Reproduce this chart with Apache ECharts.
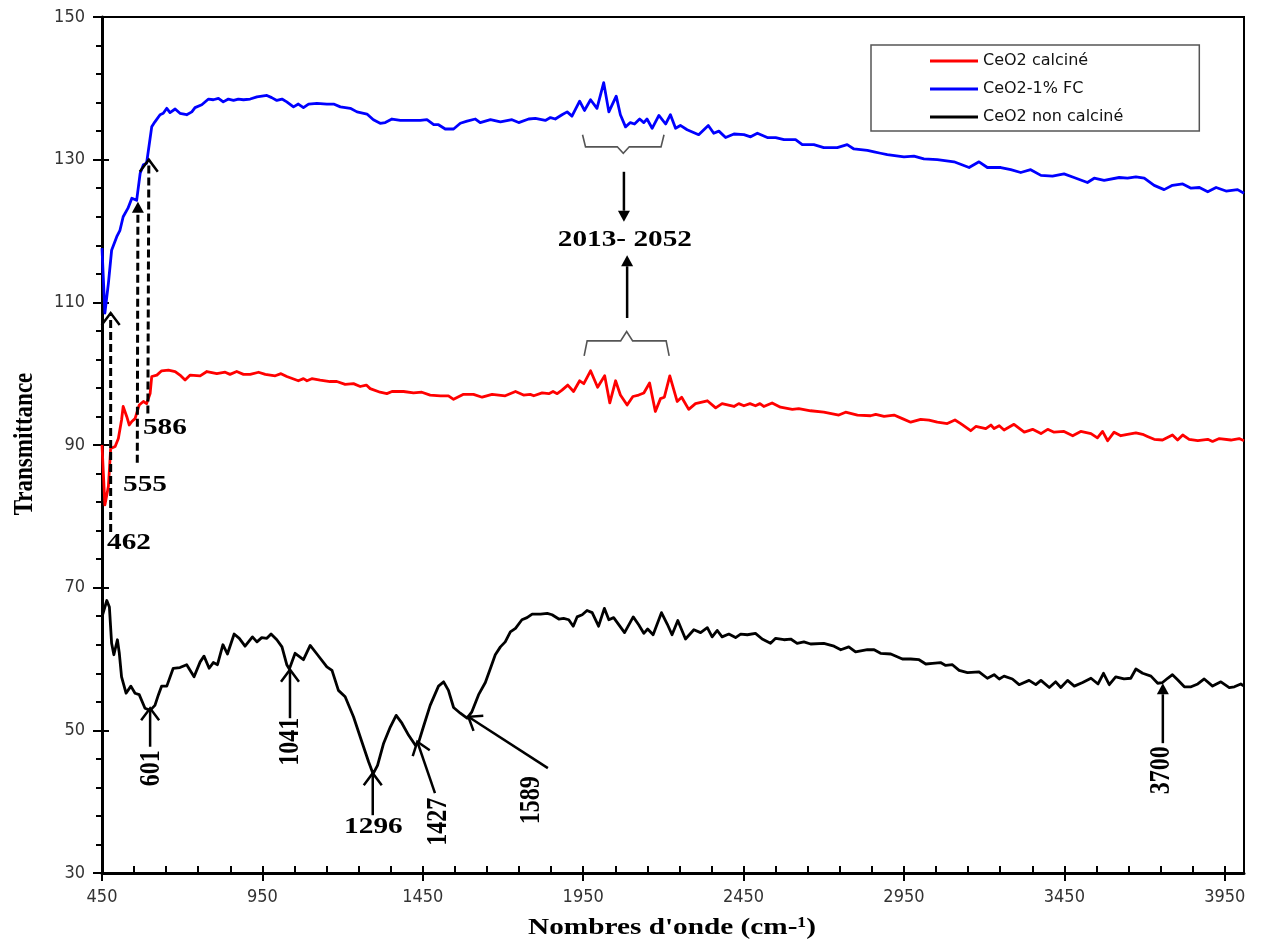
<!DOCTYPE html>
<html>
<head>
<meta charset="utf-8">
<title>Spectres IR CeO2</title>
<script src="https://cdn.jsdelivr.net/npm/echarts@6/dist/echarts.min.js"></script>
<style>
    html, body {
        margin: 0;
        padding: 0;
        background: #fff;
    }

    #main {
        width: 1265px;
        height: 942px;
    }
</style>
</head>
<body>
<div id="main"></div>
<script>
    // axes
    var xTickValues = [450, 950, 1450, 1950, 2450, 2950, 3450, 3950];
    var yTickValues = [30, 50, 70, 90, 110, 130, 150];
    var legendNames = ['CeO2 calciné', 'CeO2-1% FC', 'CeO2 non calciné'];

    // CeO2 calciné (rouge) : [nombre d'onde, transmittance]
    var redSpectrum = [
        [450, 90.0], [459, 81.6], [470, 84.2], [477, 89.5], [491, 89.8], [501, 90.9], [511, 93.5], [516, 95.4],
        [522, 95.5], [527, 94.0], [535, 92.8], [543, 93.3], [553, 93.7], [566, 95.6], [579, 96.1], [589, 95.8],
        [600, 97.2], [605, 99.6], [621, 99.8], [636, 100.4], [657, 100.5], [678, 100.3], [693, 99.8], [709, 99.1],
        [725, 99.8], [756, 99.7], [777, 100.3], [808, 100.0], [834, 100.2], [849, 99.9], [870, 100.3], [891, 99.9],
        [912, 99.9], [938, 100.2], [959, 99.9], [990, 99.7], [1008, 100.0], [1026, 99.6], [1062, 99.0], [1078, 99.3],
        [1089, 99.0], [1104, 99.3], [1130, 99.1], [1161, 98.9], [1182, 98.9], [1208, 98.5], [1234, 98.6], [1255, 98.2],
        [1274, 98.4], [1286, 97.9], [1317, 97.4], [1338, 97.2], [1354, 97.5], [1390, 97.5], [1421, 97.3], [1447, 97.4],
        [1473, 97.0], [1505, 96.9], [1530, 96.9], [1546, 96.4], [1577, 97.1], [1608, 97.1], [1635, 96.7], [1666, 97.1],
        [1707, 96.9], [1739, 97.5], [1764, 97.0], [1785, 97.1], [1796, 96.9], [1822, 97.3], [1843, 97.2], [1856, 97.5],
        [1869, 97.2], [1884, 97.7], [1902, 98.4], [1920, 97.5], [1939, 99.0], [1952, 98.6], [1973, 100.4], [1995, 98.1],
        [2017, 99.7], [2033, 95.9], [2051, 99.0], [2066, 97.0], [2087, 95.6], [2105, 96.8], [2123, 97.0], [2139, 97.3],
        [2157, 98.7], [2175, 94.7], [2191, 96.5], [2203, 96.7], [2220, 99.7], [2243, 96.1], [2257, 96.7], [2279, 95.0],
        [2300, 95.8], [2337, 96.2], [2363, 95.2], [2383, 95.8], [2420, 95.4], [2435, 95.8], [2451, 95.5], [2470, 95.8],
        [2487, 95.5], [2501, 95.8], [2513, 95.4], [2539, 95.9], [2565, 95.3], [2602, 95.0], [2622, 95.1], [2659, 94.8],
        [2700, 94.6], [2747, 94.2], [2768, 94.6], [2805, 94.2], [2846, 94.1], [2862, 94.3], [2888, 94.0], [2919, 94.2],
        [2945, 93.7], [2971, 93.2], [3002, 93.6], [3028, 93.5], [3054, 93.2], [3085, 93.0], [3109, 93.5], [3127, 93.0],
        [3158, 92.0], [3174, 92.6], [3205, 92.3], [3221, 92.8], [3231, 92.3], [3247, 92.7], [3262, 92.1], [3293, 92.9],
        [3325, 91.8], [3351, 92.2], [3377, 91.6], [3398, 92.2], [3418, 91.8], [3449, 91.9], [3476, 91.3], [3501, 91.9],
        [3533, 91.6], [3553, 91.0], [3569, 91.9], [3585, 90.6], [3605, 91.8], [3626, 91.3], [3647, 91.5], [3673, 91.7],
        [3694, 91.5], [3709, 91.2], [3730, 90.8], [3756, 90.7], [3787, 91.4], [3803, 90.7], [3819, 91.4], [3839, 90.8],
        [3866, 90.6], [3897, 90.8], [3912, 90.5], [3933, 90.9], [3969, 90.7], [3995, 90.9], [4010, 90.6]
    ];

    // CeO2-1% FC (bleu)
    var blueSpectrum = [
        [450, 117.6], [459, 108.5], [470, 112.7], [480, 117.3], [496, 119.2], [506, 120.1], [516, 122.0], [531, 123.2],
        [543, 124.6], [558, 124.3], [569, 128.1], [579, 129.3], [589, 129.5], [605, 134.6], [615, 135.3], [631, 136.3],
        [641, 136.5], [652, 137.2], [662, 136.6], [678, 137.1], [693, 136.5], [714, 136.3], [730, 136.7], [740, 137.3],
        [761, 137.7], [782, 138.5], [797, 138.4], [813, 138.6], [828, 138.1], [844, 138.5], [860, 138.3], [875, 138.5],
        [891, 138.4], [912, 138.5], [933, 138.8], [964, 139.0], [979, 138.7], [995, 138.3], [1011, 138.5], [1026, 138.1],
        [1047, 137.4], [1062, 137.8], [1078, 137.3], [1094, 137.8], [1120, 137.9], [1151, 137.8], [1172, 137.8], [1193, 137.4],
        [1224, 137.2], [1245, 136.7], [1276, 136.4], [1296, 135.6], [1317, 135.1], [1333, 135.2], [1354, 135.7], [1380, 135.5],
        [1411, 135.5], [1442, 135.5], [1463, 135.6], [1484, 134.9], [1499, 134.9], [1520, 134.3], [1546, 134.3], [1567, 135.1],
        [1588, 135.4], [1614, 135.7], [1629, 135.2], [1661, 135.6], [1692, 135.3], [1728, 135.6], [1749, 135.2], [1780, 135.7],
        [1801, 135.8], [1832, 135.5], [1848, 135.9], [1863, 135.7], [1884, 136.3], [1900, 136.7], [1915, 136.1], [1939, 138.2],
        [1954, 136.9], [1973, 138.4], [1993, 137.2], [2014, 140.8], [2030, 136.7], [2053, 138.9], [2066, 136.3], [2082, 134.6],
        [2097, 135.2], [2110, 135.0], [2126, 135.7], [2139, 135.2], [2149, 135.7], [2165, 134.4], [2186, 136.2], [2207, 135.0],
        [2222, 136.3], [2238, 134.4], [2253, 134.8], [2274, 134.2], [2310, 133.5], [2340, 134.8], [2357, 133.7], [2373, 134.0],
        [2394, 133.1], [2420, 133.6], [2451, 133.5], [2472, 133.2], [2493, 133.7], [2524, 133.1], [2550, 133.1], [2576, 132.8],
        [2612, 132.8], [2633, 132.1], [2669, 132.1], [2700, 131.7], [2742, 131.7], [2773, 132.1], [2794, 131.5], [2815, 131.4],
        [2836, 131.3], [2857, 131.1], [2877, 130.9], [2898, 130.7], [2950, 130.4], [2981, 130.5], [3012, 130.1], [3054, 130.0],
        [3106, 129.7], [3153, 128.9], [3184, 129.7], [3210, 128.9], [3252, 128.9], [3283, 128.6], [3314, 128.2], [3345, 128.6],
        [3377, 127.8], [3413, 127.7], [3449, 128.0], [3480, 127.5], [3522, 126.8], [3543, 127.4], [3574, 127.1], [3621, 127.5],
        [3647, 127.4], [3673, 127.6], [3699, 127.4], [3730, 126.4], [3761, 125.8], [3787, 126.4], [3819, 126.6], [3845, 126.0],
        [3871, 126.1], [3897, 125.5], [3923, 126.1], [3954, 125.6], [3990, 125.8], [4010, 125.3]
    ];

    // CeO2 non calciné (noir)
    var blackSpectrum = [
        [450, 65.9], [465, 68.2], [473, 67.3], [480, 62.2], [487, 60.6], [498, 62.7], [504, 60.8], [511, 57.5],
        [525, 55.2], [540, 56.2], [553, 55.2], [566, 55.0], [584, 53.1], [600, 52.8], [615, 53.5], [626, 55.0],
        [636, 56.2], [652, 56.2], [672, 58.7], [693, 58.8], [714, 59.2], [737, 57.5], [756, 59.6], [768, 60.4],
        [784, 58.7], [797, 59.5], [810, 59.2], [827, 62.0], [841, 60.7], [862, 63.5], [878, 62.9], [896, 61.8],
        [919, 63.1], [933, 62.4], [948, 63.0], [964, 62.9], [977, 63.5], [995, 62.7], [1011, 61.7], [1026, 59.2],
        [1034, 58.6], [1052, 60.8], [1078, 59.9], [1099, 61.9], [1120, 60.7], [1151, 58.9], [1167, 58.4], [1187, 55.6],
        [1208, 54.7], [1234, 51.9], [1260, 48.4], [1281, 45.6], [1295, 43.9], [1309, 45.1], [1328, 48.2], [1349, 50.5],
        [1367, 52.1], [1385, 51.0], [1406, 49.3], [1427, 47.9], [1437, 48.3], [1452, 50.5], [1473, 53.5], [1499, 56.2],
        [1515, 56.8], [1530, 55.6], [1546, 53.2], [1567, 52.4], [1588, 51.7], [1603, 52.6], [1624, 55.0], [1645, 56.7],
        [1661, 58.7], [1676, 60.6], [1692, 61.7], [1707, 62.4], [1723, 63.8], [1739, 64.3], [1759, 65.5], [1775, 65.8],
        [1791, 66.3], [1817, 66.3], [1838, 66.4], [1853, 66.2], [1874, 65.6], [1889, 65.7], [1905, 65.5], [1919, 64.6],
        [1931, 65.9], [1947, 66.2], [1962, 66.8], [1978, 66.5], [1998, 64.6], [2016, 67.1], [2030, 65.5], [2045, 65.8],
        [2079, 63.7], [2106, 65.9], [2123, 64.8], [2139, 63.6], [2151, 64.2], [2168, 63.4], [2194, 66.5], [2212, 64.9],
        [2227, 63.4], [2245, 65.4], [2269, 62.8], [2295, 64.1], [2316, 63.7], [2337, 64.4], [2352, 63.1], [2368, 64.0],
        [2383, 63.1], [2404, 63.5], [2425, 63.0], [2441, 63.5], [2462, 63.4], [2487, 63.6], [2508, 62.8], [2534, 62.2],
        [2550, 62.9], [2576, 62.7], [2597, 62.8], [2617, 62.2], [2638, 62.4], [2659, 62.1], [2700, 62.2], [2732, 61.8],
        [2753, 61.3], [2778, 61.7], [2799, 61.0], [2836, 61.3], [2857, 61.3], [2877, 60.8], [2909, 60.7], [2945, 60.0],
        [2971, 60.0], [2997, 59.9], [3018, 59.3], [3039, 59.4], [3064, 59.5], [3080, 59.1], [3101, 59.2], [3122, 58.4],
        [3148, 58.1], [3184, 58.2], [3210, 57.3], [3231, 57.8], [3247, 57.2], [3262, 57.6], [3288, 57.2], [3309, 56.4],
        [3340, 57.0], [3361, 56.4], [3377, 57.0], [3403, 56.0], [3423, 56.8], [3439, 56.0], [3460, 57.0], [3481, 56.2],
        [3507, 56.7], [3533, 57.3], [3555, 56.5], [3572, 58.0], [3590, 56.4], [3610, 57.5], [3636, 57.2], [3657, 57.3],
        [3673, 58.6], [3694, 58.0], [3720, 57.6], [3741, 56.6], [3756, 56.7], [3772, 57.3], [3787, 57.8], [3803, 57.1],
        [3824, 56.1], [3845, 56.1], [3866, 56.5], [3886, 57.2], [3912, 56.2], [3938, 56.8], [3964, 56.0], [3980, 56.1],
        [4000, 56.5], [4010, 56.2]
    ];

    // annotations des bandes (positions en unités du graphique)
    var dashedPeaks = [
        { label: '462', tail: [477, 77.8], tip: [477, 108.5], at: [534, 76.3], head: 'open' },
        { label: '555', tail: [560, 87.5], tip: [562, 124.1], at: [584, 84.4], head: 'solid' },
        { label: '586', tail: [593, 94.4], tip: [596, 130.0], at: [646, 92.4], head: 'open' }
    ];
    var blackPeaks = [
        { label: '601', tail: [600, 47.7], tip: [600, 53.1], at: [603, 44.7], rotate: true, head: 'open' },
        { label: '1041', tail: [1036, 51.7], tip: [1036, 58.5], at: [1036, 48.4], rotate: true, head: 'open' },
        { label: '1296', tail: [1294, 38.1], tip: [1294, 44.0], at: [1296, 36.5], rotate: false, head: 'open' },
        { label: '1427', tail: [1488, 41.2], tip: [1433, 48.4], at: [1498, 37.2], rotate: true, head: 'open' },
        { label: '1589', tail: [1840, 44.7], tip: [1592, 51.9], at: [1790, 40.2], rotate: true, head: 'open' },
        { label: '3700', tail: [3757, 48.2], tip: [3757, 56.6], at: [3754, 44.4], rotate: true, head: 'solid' }
    ];
    var bandBraces = [
        { from: 1948, to: 2202, end: 133.5, bar: 131.8, point: 130.9 },
        { from: 1953, to: 2218, end: 102.5, bar: 104.6, point: 105.9 }
    ];
    var bandArrows = [
        { tail: [2077, 128.3], tip: [2077, 121.3] },
        { tail: [2087, 107.8], tip: [2087, 116.6] }
    ];
    var bandLabel = { label: '2013- 2052', at: [2080, 118.7] };

    var xMin = 450, xMax = 4010, yMin = 30, yMax = 150;

    // graduations secondaires
    var xMinor = [];
    for (var v = 450; v <= xMax; v += 100) { xMinor.push(v); }
    var yMinor = [];
    for (var w = 30; w <= 150; w += 4) { yMinor.push(w); }

    var tickFont = "'Liberation Sans Narrow', 'DejaVu Sans Condensed', sans-serif";

    function plain(val) {
        return String(val);
    }

    function baseX(extra) {
        var a = {
            type: 'value', min: xMin, max: xMax, position: 'bottom',
            axisLine: { show: false, onZero: false },
            axisTick: { show: false },
            axisLabel: { show: false },
            splitLine: { show: false }
        };
        for (var k in extra) { a[k] = extra[k]; }
        return a;
    }
    function baseY(extra) {
        var a = {
            type: 'value', min: yMin, max: yMax, position: 'left',
            axisLine: { show: false, onZero: false },
            axisTick: { show: false },
            axisLabel: { show: false },
            splitLine: { show: false }
        };
        for (var k in extra) { a[k] = extra[k]; }
        return a;
    }

    var option = {
        animation: false,
        backgroundColor: '#fff',
        grid: {
            left: 102, right: 21, top: 17, bottom: 69,
            show: true, borderColor: '#000', borderWidth: 2,
            containLabel: false, outerBoundsMode: 'none'
        },
        legend: {
            data: legendNames,
            orient: 'vertical',
            left: 871, top: 45,
            icon: 'rect',
            itemWidth: 48, itemHeight: 3, itemGap: 10, itemTextGap: 6,
            padding: [7, 76, 5, 59],
            borderColor: '#555', borderWidth: 1.5,
            backgroundColor: '#fff',
            textStyle: { fontFamily: "'DejaVu Sans', sans-serif", fontSize: 16, lineHeight: 18, color: '#111' }
        },
        xAxis: [
            baseX({
                axisLine: { show: true, onZero: false, lineStyle: { color: '#000', width: 3 } },
                axisTick: { show: true, customValues: xTickValues, length: 8, lineStyle: { color: '#000', width: 2 } },
                axisLabel: {
                    show: true, customValues: xTickValues, formatter: plain, margin: 15,
                    fontSize: 18, fontFamily: tickFont, color: '#333'
                }
            }),
            baseX({
                axisTick: { show: true, inside: true, customValues: xMinor, length: 7, lineStyle: { color: '#000', width: 2 } }
            })
        ],
        yAxis: [
            baseY({
                axisLine: { show: true, onZero: false, lineStyle: { color: '#000', width: 3 } },
                axisTick: { show: true, customValues: yTickValues, length: 9, lineStyle: { color: '#000', width: 2 } },
                axisLabel: {
                    show: true, customValues: yTickValues, formatter: plain, margin: 17,
                    fontSize: 18, fontFamily: tickFont, color: '#333'
                }
            }),
            baseY({
                axisTick: { show: true, inside: true, customValues: yTickValues, length: 7, lineStyle: { color: '#000', width: 2 } }
            }),
            baseY({
                axisTick: { show: true, customValues: yMinor, length: 6, lineStyle: { color: '#000', width: 2 } }
            })
        ],
        series: [
            { name: legendNames[0], type: 'line', data: redSpectrum, color: '#ff0000' },
            { name: legendNames[1], type: 'line', data: blueSpectrum, color: '#0000ff' },
            { name: legendNames[2], type: 'line', data: blackSpectrum, color: '#000000' }
        ].map(function (s) {
            s.xAxisIndex = 0;
            s.yAxisIndex = 0;
            s.symbol = 'none';
            s.showSymbol = false;
            s.lineStyle = { width: 2.8, color: s.color, join: 'round' };
            s.z = 3;
            return s;
        })
    };

    var chart = echarts.init(document.getElementById('main'));
    chart.setOption(option);

    // ---- annotations ----
    function P(pt) {
        return chart.convertToPixel({ seriesIndex: 0 }, pt);
    }

    var serif = "'Liberation Serif', 'DejaVu Serif', serif";

    function label(text, at, rotate, size) {
        var p = P(at);
        return {
            type: 'text', x: p[0], y: p[1], silent: true, z: 50,
            rotation: rotate ? Math.PI / 2 : 0,
            scaleX: rotate ? 1 : 1.22,
            scaleY: rotate ? 1.22 : 1,
            style: {
                text: text, fill: '#000',
                font: 'bold ' + (size || 24) + 'px ' + serif,
                align: 'center', verticalAlign: 'middle',
                textAlign: 'center', textVerticalAlign: 'middle'
            }
        };
    }

    function segment(points, width, dash, color) {
        return {
            type: 'polyline', silent: true, z: 50,
            shape: { points: points },
            style: { stroke: color || '#000', lineWidth: width, fill: null, lineDash: dash || null, lineCap: 'butt', lineJoin: 'miter' }
        };
    }

    function arrow(tailPt, tipPt, kind, dashed) {
        var t = P(tailPt), h = P(tipPt);
        var dx = h[0] - t[0], dy = h[1] - t[1];
        var L = Math.sqrt(dx * dx + dy * dy);
        var ux = dx / L, uy = dy / L, nx = -uy, ny = ux;
        var out = [];
        if (kind === 'solid') {
            var len = 11, half = 6;
            var bx = h[0] - ux * len, by = h[1] - uy * len;
            out.push(segment([t, [bx, by]], dashed ? 3 : 2.5, dashed ? [8, 4] : null));
            out.push({
                type: 'polygon', silent: true, z: 51,
                shape: { points: [h, [bx + nx * half, by + ny * half], [bx - nx * half, by - ny * half]] },
                style: { fill: '#000' }
            });
        } else {
            var len2 = 12, half2 = 9;
            var cx = h[0] - ux * len2, cy = h[1] - uy * len2;
            out.push(segment([t, h], dashed ? 3 : 2.5, dashed ? [8, 4] : null));
            out.push(segment([[cx + nx * half2, cy + ny * half2], h, [cx - nx * half2, cy - ny * half2]], 2.5));
        }
        return out;
    }

    function brace(b) {
        var l = P([b.from, b.end]), lb = P([b.from, b.bar]);
        var r = P([b.to, b.end]), rb = P([b.to, b.bar]);
        var mid = (b.from + b.to) / 2;
        var m = P([mid, b.point]), mb = P([mid, b.bar]);
        return segment([
            l, [lb[0] + 3, lb[1]], [mb[0] - 6, mb[1]], m,
            [mb[0] + 6, mb[1]], [rb[0] - 3, rb[1]], r
        ], 1.6, null, '#555');
    }

    var graphics = [];
    dashedPeaks.forEach(function (d) {
        graphics = graphics.concat(arrow(d.tail, d.tip, d.head, true));
        graphics.push(label(d.label, d.at, false));
    });
    blackPeaks.forEach(function (d) {
        graphics = graphics.concat(arrow(d.tail, d.tip, d.head, false));
        graphics.push(label(d.label, d.at, d.rotate));
    });
    bandBraces.forEach(function (b) { graphics.push(brace(b)); });
    bandArrows.forEach(function (a) {
        graphics = graphics.concat(arrow(a.tail, a.tip, 'solid', false));
    });
    graphics.push(label(bandLabel.label, bandLabel.at, false));

    // titres des axes
    graphics.push({
        type: 'text', x: 25, y: 444, rotation: Math.PI / 2, scaleY: 1.22, silent: true,
        style: {
            text: 'Transmittance', fill: '#000', font: 'bold 23px ' + serif,
            align: 'center', verticalAlign: 'middle', textAlign: 'center', textVerticalAlign: 'middle'
        }
    });
    graphics.push({
        type: 'text', x: 672, y: 928, scaleX: 1.22, silent: true,
        style: {
            text: 'Nombres d\'onde (cm-\u00b9)', fill: '#000', font: 'bold 24px ' + serif,
            align: 'center', verticalAlign: 'middle', textAlign: 'center', textVerticalAlign: 'middle'
        }
    });

    chart.setOption({ graphic: graphics });
</script>
</body>
</html>
